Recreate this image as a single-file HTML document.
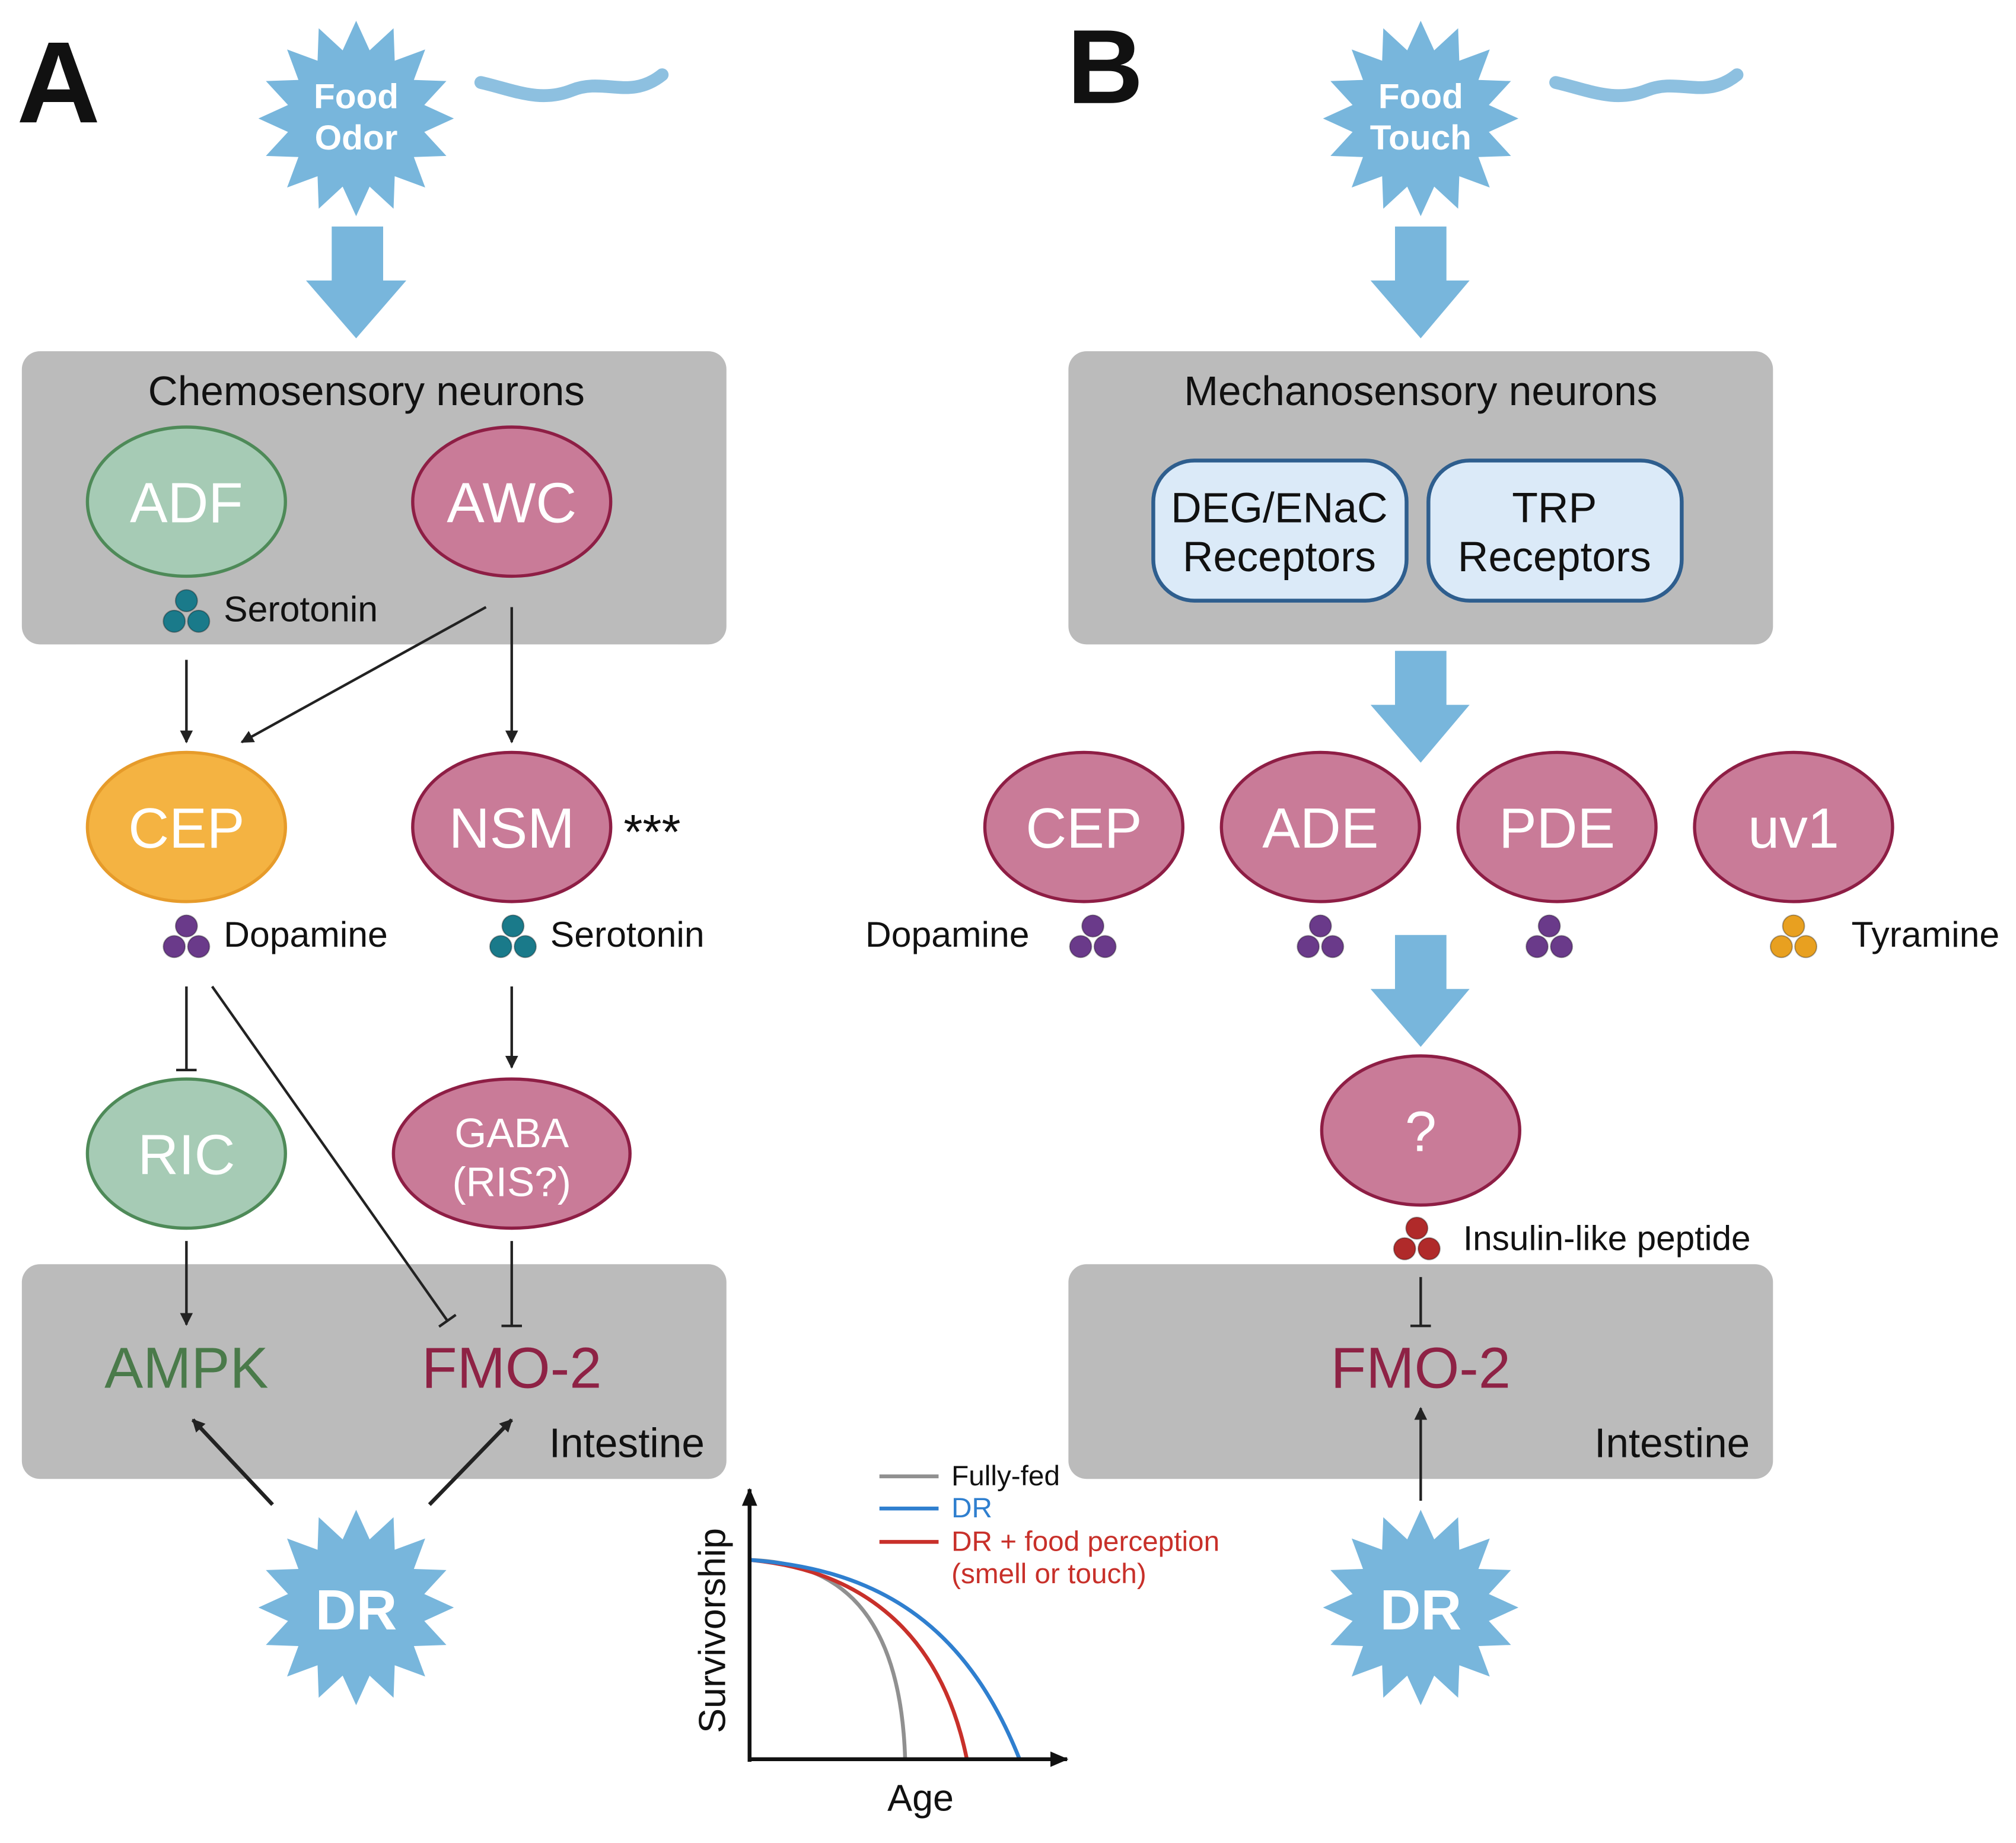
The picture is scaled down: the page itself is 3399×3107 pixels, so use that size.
<!DOCTYPE html>
<html><head><meta charset="utf-8"><style>
html,body{margin:0;padding:0;background:#fff}
svg{display:block}
text{font-family:"Liberation Sans",Arial,sans-serif}
</style></head><body>
<svg id="s" width="3399" height="3107" viewBox="0 0 1568 1433" xmlns="http://www.w3.org/2000/svg">
<defs>
<marker id="ah" markerWidth="10" markerHeight="10" refX="9" refY="5" orient="auto" markerUnits="userSpaceOnUse" viewBox="0 0 10 10"><path d="M0,0 L10,5 L0,10 z" fill="#222"/></marker>
<marker id="ah2" markerWidth="14" markerHeight="14" refX="13" refY="7" orient="auto" markerUnits="userSpaceOnUse" viewBox="0 0 14 14"><path d="M0,1 L14,7 L0,13 z" fill="#111"/></marker>
<marker id="bar" markerWidth="16" markerHeight="16" refX="8" refY="8" orient="auto" markerUnits="userSpaceOnUse" viewBox="0 0 16 16"><path d="M8,0 L8,16" stroke="#222" stroke-width="2"/></marker>
</defs>
<g id="stars" fill="#78b6dc"></g>
<text x="13" y="95" font-size="90" font-weight="bold" fill="#111">A</text>
<text x="830" y="80" font-size="82" font-weight="bold" fill="#111">B</text>
<g fill="#fff" font-weight="bold" text-anchor="middle">
<text x="277" y="84" font-size="27">Food</text><text x="277" y="116" font-size="27">Odor</text>
<text x="1105" y="84" font-size="27">Food</text><text x="1105" y="116" font-size="27">Touch</text>
<text x="277" y="1267" font-size="44">DR</text>
<text x="1105" y="1267" font-size="44">DR</text>
</g>
<path d="M374,64 C400,70 420,80 445,70 C470,60 490,78 515,58" stroke="#8dc0e0" stroke-width="10" fill="none" stroke-linecap="round"/>
<path d="M1210,64 C1236,70 1256,80 1281,70 C1306,60 1326,78 1351,58" stroke="#8dc0e0" stroke-width="10" fill="none" stroke-linecap="round"/>
<g fill="#78b6dc">
<path d="M258,176 H298 V218 H316 L277,263 L238,218 H258 Z"/>
<path d="M1085,176 H1125 V218 H1143 L1105,263 L1066,218 H1085 Z"/>
<path d="M1085,506 H1125 V548 H1143 L1105,593 L1066,548 H1085 Z"/>
<path d="M1085,727 H1125 V769 H1143 L1105,814 L1066,769 H1085 Z"/>
</g>
<g fill="#bbbbbb">
<rect x="17" y="273" width="548" height="228" rx="14"/>
<rect x="17" y="983" width="548" height="167" rx="14"/>
<rect x="831" y="273" width="548" height="228" rx="14"/>
<rect x="831" y="983" width="548" height="167" rx="14"/>
</g>
<g font-size="32" fill="#111" text-anchor="middle">
<text x="285" y="315">Chemosensory neurons</text>
<text x="1105" y="315">Mechanosensory neurons</text>
</g>
<g font-size="32" fill="#111" text-anchor="end">
<text x="548" y="1133">Intestine</text>
<text x="1361" y="1133">Intestine</text>
</g>
<g stroke-width="2.5">
<ellipse cx="145" cy="390" rx="77" ry="58" fill="#a6cbb5" stroke="#4e8a58"/>
<ellipse cx="398" cy="390" rx="77" ry="58" fill="#c97b98" stroke="#8e1e45"/>
<ellipse cx="145" cy="643" rx="77" ry="58" fill="#f4b342" stroke="#e69b2a"/>
<ellipse cx="398" cy="643" rx="77" ry="58" fill="#c97b98" stroke="#8e1e45"/>
<ellipse cx="145" cy="897" rx="77" ry="58" fill="#a6cbb5" stroke="#4e8a58"/>
<ellipse cx="398" cy="897" rx="92" ry="58" fill="#c97b98" stroke="#8e1e45"/>
<ellipse cx="843" cy="643" rx="77" ry="58" fill="#c97b98" stroke="#8e1e45"/>
<ellipse cx="1027" cy="643" rx="77" ry="58" fill="#c97b98" stroke="#8e1e45"/>
<ellipse cx="1211" cy="643" rx="77" ry="58" fill="#c97b98" stroke="#8e1e45"/>
<ellipse cx="1395" cy="643" rx="77" ry="58" fill="#c97b98" stroke="#8e1e45"/>
<ellipse cx="1105" cy="879" rx="77" ry="58" fill="#c97b98" stroke="#8e1e45"/>
</g>
<g fill="#fff" font-size="44" text-anchor="middle">
<text x="145" y="406">ADF</text><text x="398" y="406">AWC</text>
<text x="145" y="659">CEP</text><text x="398" y="659">NSM</text>
<text x="145" y="913">RIC</text>
<text x="398" y="892" font-size="32">GABA</text><text x="398" y="930" font-size="32">(RIS?)</text>
<text x="843" y="659">CEP</text><text x="1027" y="659">ADE</text><text x="1211" y="659">PDE</text><text x="1395" y="659">uv1</text>
<text x="1105" y="895">?</text>
</g>
<text x="485" y="660" font-size="38" fill="#111">***</text>
<rect x="897" y="358" width="197" height="109" rx="32" fill="#dbeaf8" stroke="#2e5e8e" stroke-width="3"/>
<rect x="1111" y="358" width="197" height="109" rx="32" fill="#dbeaf8" stroke="#2e5e8e" stroke-width="3"/>
<g font-size="33" fill="#111" text-anchor="middle">
<text x="995" y="406">DEG/ENaC</text><text x="995" y="444">Receptors</text>
<text x="1209" y="406">TRP</text><text x="1209" y="444">Receptors</text>
</g>
<g id="dots"></g>
<g font-size="28" fill="#111">
<text x="174" y="483">Serotonin</text>
<text x="174" y="736">Dopamine</text>
<text x="428" y="736">Serotonin</text>
<text x="673" y="736">Dopamine</text>
<text x="1440" y="736">Tyramine</text>
<text x="1138" y="972" font-size="27">Insulin-like peptide</text>
</g>
<g stroke="#222" stroke-width="2" fill="none">
<line x1="145" y1="513" x2="145" y2="577" marker-end="url(#ah)"/>
<line x1="378" y1="472" x2="188" y2="577" marker-end="url(#ah)"/>
<line x1="398" y1="472" x2="398" y2="577" marker-end="url(#ah)"/>
<line x1="145" y1="767" x2="145" y2="832" marker-end="url(#bar)"/>
<line x1="165" y1="767" x2="348" y2="1027" marker-end="url(#bar)"/>
<line x1="398" y1="767" x2="398" y2="830" marker-end="url(#ah)"/>
<line x1="145" y1="965" x2="145" y2="1030" marker-end="url(#ah)"/>
<line x1="398" y1="965" x2="398" y2="1031" marker-end="url(#bar)"/>
<line x1="212" y1="1170" x2="150" y2="1104" stroke-width="3" marker-end="url(#ah)"/>
<line x1="334" y1="1170" x2="398" y2="1104" stroke-width="3" marker-end="url(#ah)"/>
<line x1="1105" y1="993" x2="1105" y2="1031" marker-end="url(#bar)"/>
<line x1="1105" y1="1167" x2="1105" y2="1095" marker-end="url(#ah)"/>
</g>
<text x="145" y="1079" font-size="45" fill="#4a7a4a" text-anchor="middle">AMPK</text>
<text x="398" y="1079" font-size="45" fill="#8e2245" text-anchor="middle">FMO-2</text>
<text x="1105" y="1079" font-size="45" fill="#8e2245" text-anchor="middle">FMO-2</text>
<g fill="none" stroke-width="3">
<path d="M583,1213 C640,1215 700,1240 704,1368" stroke="#909090"/>
<path d="M583,1213 C660,1220 730,1260 752,1368" stroke="#c8302a"/>
<path d="M583,1213 C680,1220 750,1260 793,1368" stroke="#2f7fcf"/>
<line x1="684" y1="1148" x2="730" y2="1148" stroke="#909090"/>
<line x1="684" y1="1173" x2="730" y2="1173" stroke="#2f7fcf"/>
<line x1="684" y1="1199" x2="730" y2="1199" stroke="#c8302a"/>
<line x1="583" y1="1370" x2="583" y2="1158" stroke="#111" marker-end="url(#ah2)"/>
<line x1="582" y1="1368" x2="830" y2="1368" stroke="#111" marker-end="url(#ah2)"/>
</g>
<g font-size="22">
<text x="740" y="1155" fill="#111">Fully-fed</text>
<text x="740" y="1180" fill="#2f7fcf">DR</text>
<text x="740" y="1206" fill="#c8302a">DR + food perception</text>
<text x="740" y="1231" fill="#c8302a">(smell or touch)</text>
</g>
<text x="716" y="1408" font-size="29" fill="#111" text-anchor="middle">Age</text>
<text transform="translate(564,1268) rotate(-90)" font-size="29" fill="#111" text-anchor="middle">Survivorship</text>
</svg>
<script>
(function(){
var ns="http://www.w3.org/2000/svg";
function star(cx,cy,R,r,n){var p=[];for(var i=0;i<2*n;i++){var a=-Math.PI/2+i*Math.PI/n;var rr=i%2?r:R;p.push((cx+rr*Math.cos(a)).toFixed(1)+","+(cy+rr*Math.sin(a)).toFixed(1));}
var e=document.createElementNS(ns,"polygon");e.setAttribute("points",p.join(" "));document.getElementById("stars").appendChild(e);}
star(277,92,76,54,16);star(1105,92,76,54,16);star(277,1250,76,54,16);star(1105,1250,76,54,16);
function dots(cx,cy,c){var g=document.getElementById("dots");[[0,-10],[-9.5,6],[9.5,6]].forEach(function(d){var e=document.createElementNS(ns,"circle");e.setAttribute("cx",cx+d[0]);e.setAttribute("cy",cy+d[1]);e.setAttribute("r",8.5);e.setAttribute("fill",c);e.setAttribute("stroke","rgba(0,0,0,0.3)");g.appendChild(e);});}
dots(145,477,"#1a7a8a");dots(145,730,"#6a3a8a");dots(399,730,"#1a7a8a");
dots(850,730,"#6a3a8a");dots(1027,730,"#6a3a8a");dots(1205,730,"#6a3a8a");dots(1395,730,"#e8a020");dots(1102,965,"#b02a2a");
})();
</script>
</body></html>
